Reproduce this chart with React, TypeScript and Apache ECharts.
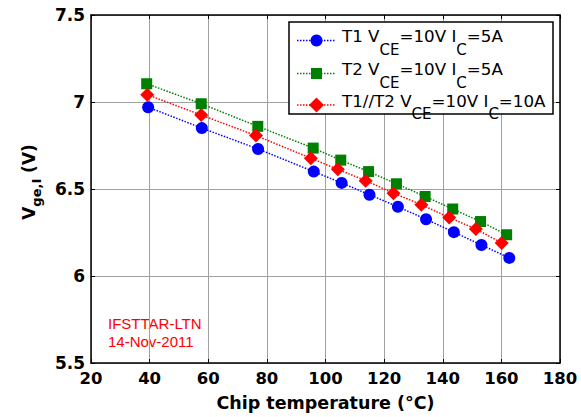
import React, { useEffect, useRef } from "react";
import * as echarts from "echarts";

const t1Temp = [39.5, 57.8, 77, 96, 105.5, 115, 124.7, 134.3, 143.8, 153.2, 162.7];
const t1Vge = [6.97, 6.85, 6.73, 6.6, 6.535, 6.467, 6.398, 6.326, 6.252, 6.178, 6.104];
const t2Temp = [39, 57.6, 76.9, 95.8, 105.2, 114.7, 124.2, 134, 143.4, 152.9, 161.8];
const t2Vge = [7.105, 6.99, 6.86, 6.735, 6.666, 6.6, 6.53, 6.457, 6.385, 6.313, 6.237];
const t12Temp = [39.2, 57.6, 76.3, 95, 104.2, 113.7, 123.2, 132.7, 142.2, 151.3, 160.1];
const t12Vge = [7.042, 6.925, 6.807, 6.677, 6.613, 6.548, 6.476, 6.41, 6.336, 6.27, 6.19];

const legendNames = [
  ["T1 V", "CE", "=10V I", "C", "=5A"],
  ["T2 V", "CE", "=10V I", "C", "=5A"],
  ["T1//T2 V", "CE", "=10V I", "C", "=10A"],
];

const SANS = "Liberation Sans, Arial, sans-serif";
const WIDE = "DejaVu Sans, sans-serif";

function zip(xs: number[], ys: number[]) {
  return xs.map((x, i) => [x, ys[i]]);
}

export default function App() {
  const ref = useRef<HTMLDivElement>(null);
  useEffect(() => {
    if (!ref.current) return;
    const chart = echarts.init(ref.current, undefined, { renderer: "svg" });
    const colors = ["#0000ff", "#008000", "#ff0000"];
    const symbols = ["circle", "rect", "diamond"];
    const sizes = [12, 11, 14];
    const datasets = [zip(t1Temp, t1Vge), zip(t2Temp, t2Vge), zip(t12Temp, t12Vge)];

    const legendRows = [40.5, 73.5, 105];
    const legendGraphics: any[] = [
      {
        type: "rect",
        shape: { x: 289, y: 22, width: 264, height: 92 },
        style: { fill: "#fff", stroke: "#000", lineWidth: 1.5 },
        z: 10,
      },
    ];
    legendRows.forEach((y, i) => {
      legendGraphics.push({
        type: "line",
        shape: { x1: 297, y1: y, x2: 335, y2: y },
        style: { stroke: colors[i], lineWidth: 1.5, lineDash: [1.5, 1.5] },
        z: 11,
      });
      if (i === 0) {
        legendGraphics.push({
          type: "circle",
          shape: { cx: 316.5, cy: y, r: 6 },
          style: { fill: colors[i] },
          z: 12,
        });
      } else if (i === 1) {
        legendGraphics.push({
          type: "rect",
          shape: { x: 311, y: y - 5.5, width: 11, height: 11 },
          style: { fill: colors[i] },
          z: 12,
        });
      } else {
        legendGraphics.push({
          type: "polygon",
          shape: { points: [[316.5, y - 7.5], [324, y], [316.5, y + 7.5], [309, y]] },
          style: { fill: colors[i] },
          z: 12,
        });
      }
      const n = legendNames[i];
      legendGraphics.push({
        type: "text",
        x: 342,
        y: y - 4.5,
        z: 12,
        style: {
          text: `{m|${n[0]}}{s|${n[1]}}{m|${n[2]}}{s|${n[3]}}{m|${n[4]}}`,
          verticalAlign: "middle",
          rich: {
            m: { fontSize: 16.7, fontFamily: WIDE, fill: "#000", lineHeight: 2 },
            s: { fontSize: 15, fontFamily: WIDE, fill: "#000", lineHeight: 2, padding: [27, 0, 0, 0] },
          },
        },
      });
    });

    const option: any = {
      animation: false,
      backgroundColor: "#fff",
      grid: { left: 91, right: 21, top: 15, bottom: 52, containLabel: false },
      xAxis: [
        {
          type: "value",
          min: 20,
          max: 180,
          interval: 20,
          name: "Chip temperature (°C)",
          nameLocation: "middle",
          nameGap: 31,
          nameTextStyle: { fontSize: 17.5, fontWeight: "bold", fontFamily: WIDE, color: "#000" },
          axisLine: { lineStyle: { color: "#000", width: 1.5 } },
          axisTick: { inside: true, length: 4, lineStyle: { color: "#000" } },
          axisLabel: { fontSize: 16.5, fontWeight: "bold", fontFamily: WIDE, color: "#000", margin: 7 },
          splitLine: { show: true, lineStyle: { color: "#a0a0a0", width: 1 } },
        },
        {
          type: "value",
          position: "top",
          min: 20,
          max: 180,
          interval: 20,
          axisLine: { lineStyle: { color: "#000", width: 1.5 } },
          axisTick: { inside: true, length: 4, lineStyle: { color: "#000" } },
          axisLabel: { show: false },
          splitLine: { show: false },
        },
      ],
      yAxis: [
        {
          type: "value",
          min: 5.5,
          max: 7.5,
          interval: 0.5,
          name: "{m|V}{s|ge,I}{m| (V)}",
          nameLocation: "middle",
          nameRotate: 90,
          nameGap: 52,
          nameTextStyle: {
            padding: [0, 0, 0, 14],
            rich: {
              m: { fontSize: 17, fontWeight: "bold", fontFamily: WIDE, color: "#000", lineHeight: 20 },
              s: { fontSize: 13, fontWeight: "bold", fontFamily: WIDE, color: "#000", padding: [14, 0, 0, 0], lineHeight: 18 },
            },
          },
          axisLine: { lineStyle: { color: "#000", width: 1.5 } },
          axisTick: { inside: true, length: 4, lineStyle: { color: "#000" } },
          axisLabel: { fontSize: 17, fontWeight: "bold", fontFamily: WIDE, color: "#000", margin: 6 },
          splitLine: { show: true, lineStyle: { color: "#a0a0a0", width: 1 } },
        },
        {
          type: "value",
          position: "right",
          min: 5.5,
          max: 7.5,
          interval: 0.5,
          axisLine: { lineStyle: { color: "#000", width: 1.5 } },
          axisTick: { inside: true, length: 4, lineStyle: { color: "#000" } },
          axisLabel: { show: false },
          splitLine: { show: false },
        },
      ],
      series: datasets.map((d, i) => ({
        type: "line",
        data: d,
        symbol: symbols[i],
        symbolSize: sizes[i],
        itemStyle: { color: colors[i] },
        lineStyle: { color: colors[i], width: 1.5, type: [1.5, 1.5] },
        z: 3 + i,
      })),
      graphic: [
        {
          type: "text",
          x: 108,
          y: 315,
          style: {
            text: "IFSTTAR-LTN\n14-Nov-2011",
            fontSize: 15,
            fontFamily: SANS,
            fill: "#ff0000",
            lineHeight: 17.5,
          },
        },
        ...legendGraphics,
      ],
    };
    chart.setOption(option);
    return () => chart.dispose();
  }, []);
  return (
    <div
      ref={ref}
      style={{ position: "absolute", left: 0, top: 0, width: 581, height: 417 }}
    />
  );
}
